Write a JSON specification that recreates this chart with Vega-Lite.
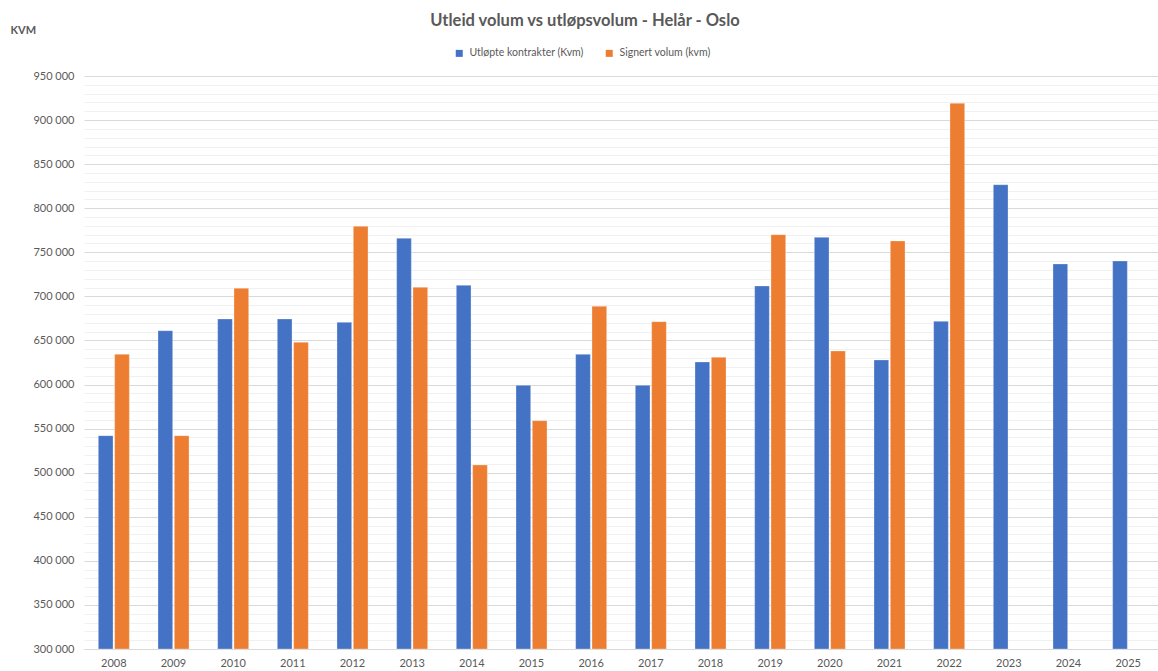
{
  "$schema": "https://vega.github.io/schema/vega-lite/v6.json",
  "autosize": {"type": "none"},
  "padding": {"left": 84, "top": 76, "right": 0, "bottom": 22},
  "width": 1074,
  "height": 573,
  "background": "white",
  "title": {
    "text": "Utleid volum vs utløpsvolum - Helår - Oslo",
    "font": "Lato",
    "fontSize": 16.5,
    "fontWeight": "bold",
    "color": "#595959",
    "anchor": "middle",
    "frame": "group",
    "dx": -36,
    "offset": -5
  },
  "config": {
    "locale": {"number": {"decimal": ",", "thousands": " ", "grouping": [3], "currency": ["", " kr"]}},
    "view": {"stroke": null},
    "font": "Lato"
  },
  "data": {
    "values": [
      {"year": "2008", "series": "Utløpte kontrakter (Kvm)", "value": 542000},
      {"year": "2008", "series": "Signert volum (kvm)", "value": 634300},
      {"year": "2009", "series": "Utløpte kontrakter (Kvm)", "value": 661100},
      {"year": "2009", "series": "Signert volum (kvm)", "value": 542000},
      {"year": "2010", "series": "Utløpte kontrakter (Kvm)", "value": 674400},
      {"year": "2010", "series": "Signert volum (kvm)", "value": 709200},
      {"year": "2011", "series": "Utløpte kontrakter (Kvm)", "value": 674400},
      {"year": "2011", "series": "Signert volum (kvm)", "value": 648000},
      {"year": "2012", "series": "Utløpte kontrakter (Kvm)", "value": 670600},
      {"year": "2012", "series": "Signert volum (kvm)", "value": 779500},
      {"year": "2013", "series": "Utløpte kontrakter (Kvm)", "value": 765900},
      {"year": "2013", "series": "Signert volum (kvm)", "value": 710300},
      {"year": "2014", "series": "Utløpte kontrakter (Kvm)", "value": 712600},
      {"year": "2014", "series": "Signert volum (kvm)", "value": 508700},
      {"year": "2015", "series": "Utløpte kontrakter (Kvm)", "value": 599100},
      {"year": "2015", "series": "Signert volum (kvm)", "value": 559000},
      {"year": "2016", "series": "Utløpte kontrakter (Kvm)", "value": 634300},
      {"year": "2016", "series": "Signert volum (kvm)", "value": 688800},
      {"year": "2017", "series": "Utløpte kontrakter (Kvm)", "value": 599100},
      {"year": "2017", "series": "Signert volum (kvm)", "value": 671300},
      {"year": "2018", "series": "Utløpte kontrakter (Kvm)", "value": 625600},
      {"year": "2018", "series": "Signert volum (kvm)", "value": 630900},
      {"year": "2019", "series": "Utløpte kontrakter (Kvm)", "value": 711800},
      {"year": "2019", "series": "Signert volum (kvm)", "value": 770000},
      {"year": "2020", "series": "Utløpte kontrakter (Kvm)", "value": 767000},
      {"year": "2020", "series": "Signert volum (kvm)", "value": 638100},
      {"year": "2021", "series": "Utløpte kontrakter (Kvm)", "value": 627900},
      {"year": "2021", "series": "Signert volum (kvm)", "value": 762900},
      {"year": "2022", "series": "Utløpte kontrakter (Kvm)", "value": 671700},
      {"year": "2022", "series": "Signert volum (kvm)", "value": 919000},
      {"year": "2023", "series": "Utløpte kontrakter (Kvm)", "value": 826700},
      {"year": "2024", "series": "Utløpte kontrakter (Kvm)", "value": 736800},
      {"year": "2025", "series": "Utløpte kontrakter (Kvm)", "value": 740200}
    ]
  },
  "mark": {"type": "bar", "stroke": "white", "strokeWidth": 0.5, "strokeOpacity": 0.6},
  "encoding": {
    "x": {
      "field": "year",
      "type": "nominal",
      "scale": {"paddingInner": 0.48, "paddingOuter": 0.24},
      "axis": {
        "title": null,
        "labelAngle": 0,
        "labelFont": "Lato",
        "labelFontSize": 11,
        "labelColor": "#595959",
        "labelPadding": 8,
        "ticks": false,
        "domainColor": "#d9d9d9",
        "domainWidth": 1,
        "grid": false
      }
    },
    "xOffset": {
      "field": "series",
      "type": "nominal",
      "sort": ["Utløpte kontrakter (Kvm)", "Signert volum (kvm)"],
      "scale": {"paddingInner": 0.1}
    },
    "y": {
      "field": "value",
      "type": "quantitative",
      "scale": {"domain": [300000, 950000], "zero": false, "nice": false},
      "axis": {
        "title": "KVM",
        "titleAngle": 0,
        "titleX": -74,
        "titleY": -46,
        "titleAlign": "left",
        "titleBaseline": "middle",
        "titleFont": "Lato",
        "titleFontSize": 11,
        "titleFontWeight": "bold",
        "titleColor": "#595959",
        "format": ",d",
        "values": [300000, 310000, 320000, 330000, 340000, 350000, 360000, 370000, 380000, 390000, 400000, 410000, 420000, 430000, 440000, 450000, 460000, 470000, 480000, 490000, 500000, 510000, 520000, 530000, 540000, 550000, 560000, 570000, 580000, 590000, 600000, 610000, 620000, 630000, 640000, 650000, 660000, 670000, 680000, 690000, 700000, 710000, 720000, 730000, 740000, 750000, 760000, 770000, 780000, 790000, 800000, 810000, 820000, 830000, 840000, 850000, 860000, 870000, 880000, 890000, 900000, 910000, 920000, 930000, 940000, 950000],
        "labelExpr": "datum.value % 50000 === 0 ? datum.label : ''",
        "labelFont": "Lato",
        "labelFontSize": 11,
        "labelColor": "#595959",
        "labelPadding": 10,
        "labelOverlap": false,
        "labelBound": false,
        "ticks": false,
        "domain": false,
        "grid": true,
        "gridColor": {"condition": {"test": "datum.value % 50000 === 0", "value": "#d9d9d9"}, "value": "#f0f0f0"},
        "gridWidth": 1
      }
    },
    "y2": {"datum": 300000},
    "color": {
      "field": "series",
      "type": "nominal",
      "sort": ["Utløpte kontrakter (Kvm)", "Signert volum (kvm)"],
      "scale": {"domain": ["Utløpte kontrakter (Kvm)", "Signert volum (kvm)"], "range": ["#4472C4", "#ED7D31"]},
      "legend": {
        "title": null,
        "orient": "none",
        "direction": "horizontal",
        "legendX": 370,
        "legendY": -28,
        "symbolType": "square",
        "symbolSize": 49,
        "symbolStrokeWidth": 0,
        "labelFont": "Lato",
        "labelFontSize": 10.5,
        "labelColor": "#595959",
        "labelOffset": 5,
        "columnPadding": 20
      }
    }
  }
}
